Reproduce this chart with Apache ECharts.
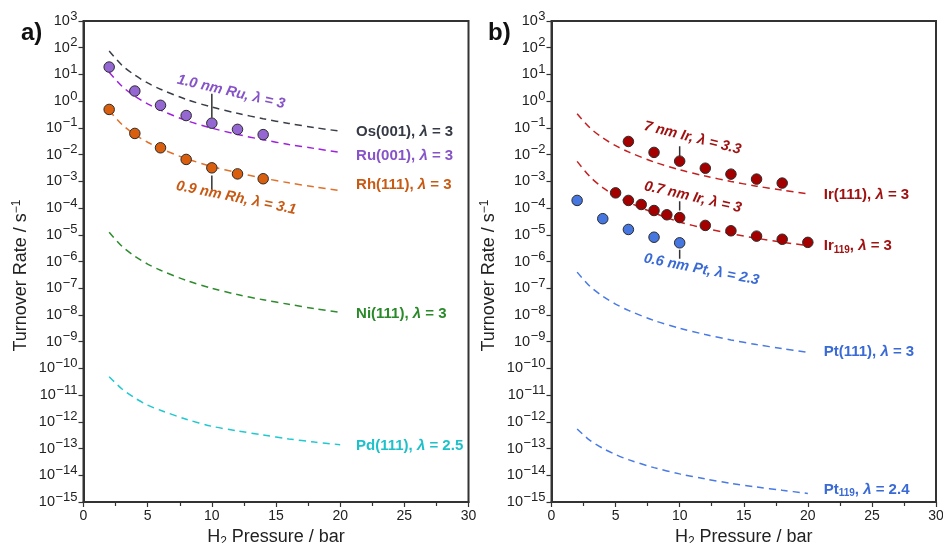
<!DOCTYPE html>
<html>
<head>
<meta charset="utf-8">
<title>Turnover rate vs H2 pressure</title>
<script src="https://cdn.jsdelivr.net/npm/echarts@6/dist/echarts.min.js"></script>
<style>
  html, body { margin: 0; padding: 0; background: #fff; }
  #chart { width: 943px; height: 543px; }
</style>
</head>
<body>
<div id="chart"></div>
<script>
// ---- data ----
// H2 pressure (bar) at which the model curves are sampled
const curvePressure = [2, 3, 4, 5, 6, 8, 10, 12, 14, 16, 18, 20];

// Panel a) model turnover rates (s^-1)
const os001 = [75, 22, 9.4, 4.8, 2.8, 1.17, 0.60, 0.35, 0.22, 0.147, 0.103, 0.075];
const ru001 = [12, 3.6, 1.54, 0.79, 0.46, 0.19, 0.098, 0.057, 0.036, 0.024, 0.017, 0.012];
const rh111 = [0.45, 0.134, 0.056, 0.029, 0.0168, 0.0071, 0.0036, 0.0021, 0.00132, 0.00088, 0.00062, 0.00045];
const ni111 = [1.25e-5, 3.7e-6, 1.57e-6, 8.0e-7, 4.7e-7, 1.97e-7, 1.0e-7, 5.8e-8, 3.7e-8, 2.5e-8, 1.73e-8, 1.26e-8];
const pd111 = [4.9e-11, 1.7e-11, 7.8e-12, 4.2e-12, 2.7e-12, 1.25e-12, 6.8e-13, 4.6e-13, 3.2e-13, 2.3e-13, 1.75e-13, 1.4e-13];

// Panel b) model turnover rates (s^-1)
const ir111 = [0.34, 0.100, 0.042, 0.0217, 0.0126, 0.0053, 0.0027, 0.00157, 0.00099, 0.00066, 0.00047, 0.00034];
const ir119 = [5.6e-3, 1.5e-3, 5.8e-4, 2.9e-4, 1.65e-4, 6.6e-5, 3.0e-5, 1.75e-5, 1.1e-5, 7.4e-6, 5.3e-6, 3.9e-6];
const pt111 = [4.0e-7, 1.18e-7, 5.0e-8, 2.55e-8, 1.48e-8, 6.2e-9, 3.2e-9, 1.85e-9, 1.16e-9, 7.8e-10, 5.5e-10, 4.0e-10];
const pt119 = [5.4e-13, 2.03e-13, 1.02e-13, 5.96e-14, 3.85e-14, 1.93e-14, 1.13e-14, 7.3e-15, 5.0e-15, 3.65e-15, 2.75e-15, 2.1e-15];

// Measured nanoparticle rates
const ruNpPressure = [2, 4, 6, 8, 10, 12, 14];
const ruNpRate = [18.9, 2.39, 0.70, 0.29, 0.15, 0.088, 0.056];
const rhNpPressure = [2, 4, 6, 8, 10, 12, 14];
const rhNpRate = [0.49, 0.062, 0.018, 0.0066, 0.0032, 0.0019, 0.00125];
const ir7Pressure = [6, 8, 10, 12, 14, 16, 18];
const ir7Rate = [0.031, 0.0121, 0.0057, 0.0031, 0.00186, 0.00121, 0.00086];
const ir07Pressure = [5, 6, 7, 8, 9, 10, 12, 14, 16, 18, 20];
const ir07Rate = [3.7e-4, 1.93e-4, 1.36e-4, 8.1e-5, 5.6e-5, 4.4e-5, 2.24e-5, 1.41e-5, 8.9e-6, 6.8e-6, 5.2e-6];
const pt06Pressure = [2, 4, 6, 8, 10];
const pt06Rate = [1.93e-4, 4.0e-5, 1.58e-5, 8.1e-6, 5.0e-6];

// Axis ranges
const xTicks = [0, 30, 5];          // min, max, step
const yRange = [1e-15, 1e3];

// ---- styling ----
const FONT = "'Liberation Sans', Arial, Helvetica, sans-serif";
const AXIS_COLOR = '#333333';
const C = {
  os:   { line: '#3a3e48', text: '#353a45' },
  ru:   { line: '#a020e0', text: '#8654c8', dot: '#9467d2' },
  rh:   { line: '#e0702a', text: '#c95a14', dot: '#d95f0e' },
  ni:   { line: '#2e8b2e', text: '#2a8a2a' },
  pd:   { line: '#20c8d0', text: '#1ec0ca' },
  ir:   { line: '#c42020', text: '#a01212', dot: '#a50000' },
  pt:   { line: '#4a7ae6', text: '#3a6ad6', dot: '#4676df' }
};

const pairs = (xs, ys) => xs.map((x, i) => [x, ys[i]]);

function expLabel(v) {
  const e = Math.round(Math.log10(v));
  return '{b|10}{e|' + (e < 0 ? '\u2212' + (-e) : String(e)) + '}';
}

function makeX(gridIndex) {
  return {
    type: 'value', gridIndex,
    min: xTicks[0], max: xTicks[1], interval: xTicks[2],
    name: '{t|H}{s|2}{t| Pressure / bar}',
    nameLocation: 'middle', nameGap: 17,
    nameTextStyle: {
      color: '#222', fontFamily: FONT,
      rich: {
        t: { fontSize: 18, fontFamily: FONT, color: '#222' },
        s: { fontSize: 12, fontFamily: FONT, color: '#222', padding: [10, 0, 0, 0] }
      }
    },
    axisLine: { show: true, onZero: false, lineStyle: { color: AXIS_COLOR, width: 2 } },
    axisTick: { show: true, length: 5, lineStyle: { color: AXIS_COLOR, width: 1.2 } },
    minorTick: { show: true, splitNumber: 2, length: 4, lineStyle: { color: AXIS_COLOR, width: 1.2 } },
    axisLabel: { fontSize: 14, color: '#222', fontFamily: FONT, margin: 7 },
    splitLine: { show: false }
  };
}

function makeY(gridIndex) {
  return {
    type: 'log', logBase: 10, gridIndex,
    min: yRange[0], max: yRange[1], interval: 1,
    name: '{t|Turnover Rate / s}{s|\u22121}',
    nameLocation: 'middle', nameGap: 51,
    nameTextStyle: {
      color: '#222', fontFamily: FONT,
      padding: [0, 28, 0, 0],
      rich: {
        t: { fontSize: 18, fontFamily: FONT, color: '#222' },
        s: { fontSize: 12, fontFamily: FONT, color: '#222', padding: [0, 0, 10, 0] }
      }
    },
    axisLine: { show: true, onZero: false, lineStyle: { color: AXIS_COLOR, width: 2 } },
    axisTick: { show: true, length: 5, lineStyle: { color: AXIS_COLOR, width: 1.2 } },
    minorTick: { show: false },
    axisLabel: {
      formatter: expLabel, margin: 6,
      rich: {
        b: { fontSize: 14.5, fontFamily: FONT, color: '#222' },
        e: { fontSize: 13, fontFamily: FONT, color: '#222', padding: [0, 0, 10, 0.5] }
      }
    },
    splitLine: { show: false }
  };
}

function curve(name, data, color, axisIdx) {
  return {
    name, type: 'line', xAxisIndex: axisIdx, yAxisIndex: axisIdx,
    data: pairs(curvePressure, data), smooth: 0.3, symbol: 'none',
    lineStyle: { color, width: 1.5, type: [7, 5] }, z: 2
  };
}

function dots(name, xs, ys, color, axisIdx) {
  return {
    name, type: 'scatter', xAxisIndex: axisIdx, yAxisIndex: axisIdx,
    data: pairs(xs, ys), symbol: 'circle', symbolSize: 10.5,
    itemStyle: { color, borderColor: '#2b2b2b', borderWidth: 1, opacity: 1 }, z: 4
  };
}

function pointer(xv, yTop, yBottom, axisIdx) {
  return {
    type: 'line', xAxisIndex: axisIdx, yAxisIndex: axisIdx,
    data: [[xv, yTop], [xv, yBottom]], symbol: 'none',
    lineStyle: { color: '#333', width: 1.5 }, z: 3
  };
}

function labelRich(color) {
  const base = { fontSize: 15, fontWeight: 'bold', fontFamily: FONT, color };
  return {
    n: base,
    l: Object.assign({}, base, { fontStyle: 'italic' }),
    sub: Object.assign({}, base, { fontSize: 10, padding: [8, 0, 0, 0] })
  };
}
function labelRichItalic(color) {
  const base = { fontSize: 14.5, fontWeight: 'bold', fontStyle: 'italic', fontFamily: FONT, color };
  return { n: base, l: base };
}

// Curve labels placed to the right of the curves: [x, y, text, colour]
const sideLabelsA = [
  [21.2, 0.074, '{n|Os(001), }{l|\u03bb}{n| = 3}', C.os.text],
  [21.2, 0.0093, '{n|Ru(001), }{l|\u03bb}{n| = 3}', C.ru.text],
  [21.2, 7.4e-4, '{n|Rh(111), }{l|\u03bb}{n| = 3}', C.rh.text],
  [21.2, 1.1e-8, '{n|Ni(111), }{l|\u03bb}{n| = 3}', C.ni.text],
  [21.2, 1.3e-13, '{n|Pd(111), }{l|\u03bb}{n| = 2.5}', C.pd.text]
];
const sideLabelsB = [
  [21.2, 3.0e-4, '{n|Ir(111), }{l|\u03bb}{n| = 3}', C.ir.text],
  [21.2, 3.8e-6, '{n|Ir}{sub|119}{n|, }{l|\u03bb}{n| = 3}', C.ir.text],
  [21.2, 4.0e-10, '{n|Pt(111), }{l|\u03bb}{n| = 3}', C.pt.text],
  [21.2, 2.9e-15, '{n|Pt}{sub|119}{n|, }{l|\u03bb}{n| = 2.4}', C.pt.text]
];
// Slanted nanoparticle labels: [x, y, text, colour, rotation]
const slantLabelsA = [
  [11.5, 2.2, '{n|1.0 nm Ru, }{l|\u03bb}{n| = 3}', C.ru.text, -13],
  [11.9, 2.4e-4, '{n|0.9 nm Rh, }{l|\u03bb}{n| = 3.1}', C.rh.text, -11.5]
];
const slantLabelsB = [
  [11.0, 0.042, '{n|7 nm Ir, }{l|\u03bb}{n| = 3.3}', C.ir.text, -14],
  [11.03, 2.55e-4, '{n|0.7 nm Ir, }{l|\u03bb}{n| = 3}', C.ir.text, -13],
  [11.7, 5.0e-7, '{n|0.6 nm Pt, }{l|\u03bb}{n| = 2.3}', C.pt.text, -11]
];

function labelSeries(side, slant, axisIdx) {
  const data = [];
  side.forEach(([x, y, txt, col]) => data.push({
    value: [x, y],
    label: { show: true, position: 'right', distance: 0, formatter: txt, rich: labelRich(col) }
  }));
  slant.forEach(([x, y, txt, col, rot]) => data.push({
    value: [x, y],
    label: { show: true, position: 'inside', rotate: rot, formatter: txt, rich: labelRichItalic(col) }
  }));
  return {
    type: 'scatter', xAxisIndex: axisIdx, yAxisIndex: axisIdx,
    symbol: 'circle', symbolSize: 1, itemStyle: { color: 'rgba(0,0,0,0)', opacity: 1 },
    data, z: 5, silent: true
  };
}

const chart = echarts.init(document.getElementById('chart'), null, { renderer: 'canvas' });
chart.setOption({
  animation: false,
  backgroundColor: '#ffffff',
  textStyle: { fontFamily: FONT },
  title: [
    { text: 'a)', left: 16, top: 16, textStyle: { fontSize: 24, fontWeight: 'bold', color: '#111', fontFamily: FONT } },
    { text: 'b)', left: 483, top: 16, textStyle: { fontSize: 24, fontWeight: 'bold', color: '#111', fontFamily: FONT } }
  ],
  grid: [
    { left: 83.5, top: 21, width: 385, bottom: 41, outerBoundsMode: 'none', containLabel: false,
      show: true, borderColor: AXIS_COLOR, borderWidth: 2, backgroundColor: 'transparent' },
    { left: 551.5, top: 21, width: 384.5, bottom: 41, outerBoundsMode: 'none', containLabel: false,
      show: true, borderColor: AXIS_COLOR, borderWidth: 2, backgroundColor: 'transparent' }
  ],
  xAxis: [makeX(0), makeX(1)],
  yAxis: [makeY(0), makeY(1)],
  series: [
    curve('Os(001)', os001, C.os.line, 0),
    curve('Ru(001)', ru001, C.ru.line, 0),
    curve('Rh(111)', rh111, C.rh.line, 0),
    curve('Ni(111)', ni111, C.ni.line, 0),
    curve('Pd(111)', pd111, C.pd.line, 0),
    pointer(10, 1.9, 0.24, 0),
    pointer(10, 1.65e-3, 4.2e-4, 0),
    dots('1.0 nm Ru', ruNpPressure, ruNpRate, C.ru.dot, 0),
    dots('0.9 nm Rh', rhNpPressure, rhNpRate, C.rh.dot, 0),
    labelSeries(sideLabelsA, slantLabelsA, 0),

    curve('Ir(111)', ir111, C.ir.line, 1),
    curve('Ir119', ir119, C.ir.line, 1),
    curve('Pt(111)', pt111, C.pt.line, 1),
    curve('Pt119', pt119, C.pt.line, 1),
    pointer(10, 0.0204, 0.0085, 1),
    pointer(10, 1.8e-4, 8.1e-5, 1),
    pointer(10, 2.75e-6, 1.26e-6, 1),
    dots('7 nm Ir', ir7Pressure, ir7Rate, C.ir.dot, 1),
    dots('0.7 nm Ir', ir07Pressure, ir07Rate, C.ir.dot, 1),
    dots('0.6 nm Pt', pt06Pressure, pt06Rate, C.pt.dot, 1),
    labelSeries(sideLabelsB, slantLabelsB, 1)
  ]
});
</script>
</body>
</html>
